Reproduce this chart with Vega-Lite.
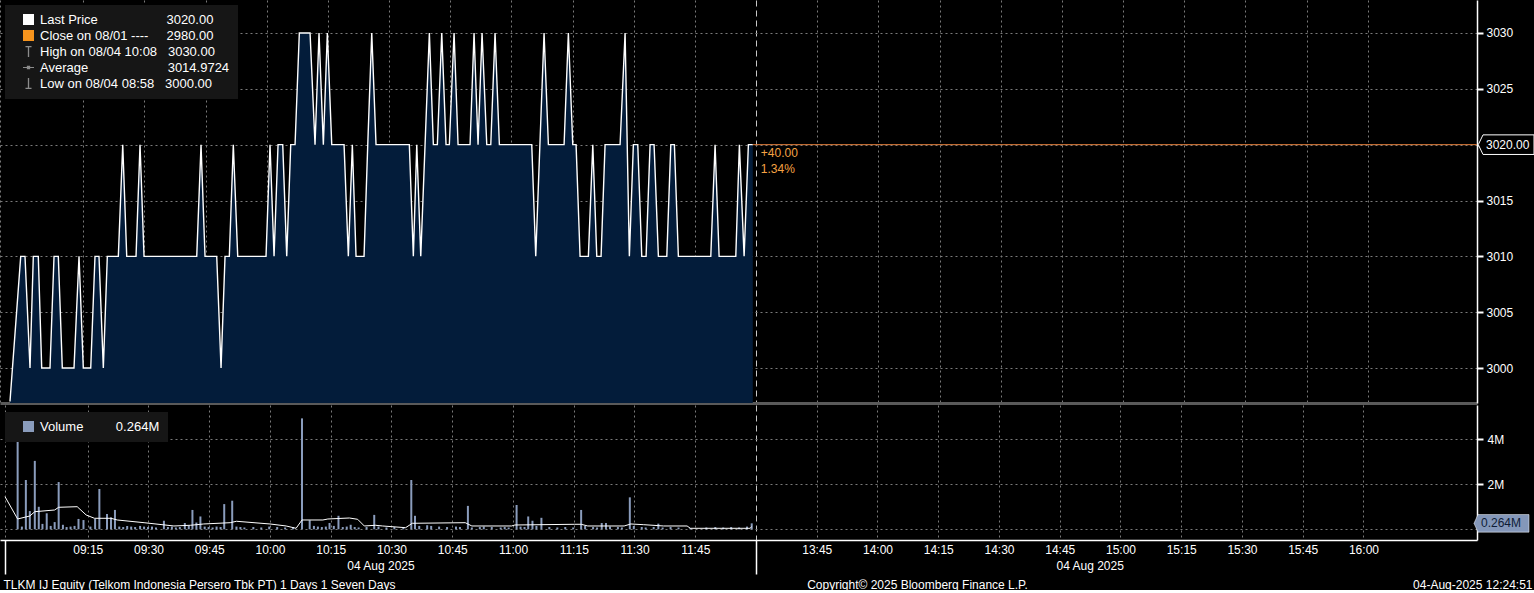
{
"$schema": "https://vega.github.io/schema/vega-lite/v6.json",
"background": "#000000",
"padding": 0,
"autosize": {"type": "pad"},
"bounds": "flush",
"spacing": 2,
"config": {
  "font": "Liberation Sans",
  "view": {"stroke": null},
  "axis": {"labelFont": "Liberation Sans", "titleFont": "Liberation Sans", "labelColor": "#ffffff", "titleColor": "#ffffff", "titleFontWeight": "normal", "labelFontSize": 12, "titleFontSize": 12, "zindex": 1},
  "legend": {"labelFont": "Liberation Sans"}
},
"datasets": {
  "price": [
    {"m":-2.98,"p":2997},{"m":-0.35,"p":3010},{"m":0.70,"p":3010},{"m":1.93,"p":3000},{"m":2.74,"p":3010},{"m":3.96,"p":3010},{"m":4.80,"p":3000},{"m":6.83,"p":3000},{"m":7.82,"p":3010},{"m":8.87,"p":3010},{"m":9.85,"p":3000},{"m":12.72,"p":3000},{"m":13.95,"p":3010},{"m":15.00,"p":3000},{"m":16.82,"p":3000},{"m":17.87,"p":3010},{"m":18.85,"p":3010},{"m":19.91,"p":3000},{"m":20.89,"p":3010},{"m":23.59,"p":3010},{"m":24.67,"p":3020},{"m":25.65,"p":3010},{"m":27.93,"p":3010},{"m":28.91,"p":3020},{"m":29.89,"p":3010},{"m":42.82,"p":3010},{"m":43.87,"p":3020},{"m":44.85,"p":3010},{"m":47.72,"p":3010},{"m":48.78,"p":3000},{"m":49.76,"p":3010},{"m":50.81,"p":3010},{"m":51.79,"p":3020},{"m":52.87,"p":3010},{"m":59.81,"p":3010},{"m":60.79,"p":3020},{"m":61.78,"p":3010},{"m":62.76,"p":3020},{"m":63.91,"p":3020},{"m":64.89,"p":3010},{"m":65.87,"p":3020},{"m":66.93,"p":3020},{"m":67.98,"p":3030},{"m":70.61,"p":3030},{"m":71.83,"p":3020},{"m":72.81,"p":3030},{"m":73.87,"p":3020},{"m":74.85,"p":3030},{"m":75.93,"p":3020},{"m":78.95,"p":3020},{"m":80.00,"p":3010},{"m":80.98,"p":3020},{"m":81.89,"p":3010},{"m":83.85,"p":3010},{"m":84.76,"p":3020},{"m":85.74,"p":3030},{"m":86.79,"p":3020},{"m":94.96,"p":3020},{"m":95.94,"p":3010},{"m":96.78,"p":3020},{"m":97.76,"p":3010},{"m":99.87,"p":3030},{"m":100.85,"p":3020},{"m":101.83,"p":3020},{"m":102.91,"p":3030},{"m":103.96,"p":3020},{"m":104.77,"p":3020},{"m":105.93,"p":3030},{"m":106.91,"p":3020},{"m":109.85,"p":3020},{"m":110.83,"p":3030},{"m":111.81,"p":3020},{"m":112.79,"p":3030},{"m":113.95,"p":3020},{"m":114.93,"p":3020},{"m":115.98,"p":3030},{"m":117.04,"p":3020},{"m":124.98,"p":3020},{"m":125.96,"p":3010},{"m":128.00,"p":3030},{"m":129.06,"p":3020},{"m":132.91,"p":3020},{"m":133.96,"p":3030},{"m":135.04,"p":3020},{"m":135.85,"p":3020},{"m":136.83,"p":3010},{"m":138.87,"p":3010},{"m":139.95,"p":3020},{"m":140.93,"p":3010},{"m":141.98,"p":3010},{"m":142.96,"p":3020},{"m":146.64,"p":3020},{"m":147.87,"p":3030},{"m":148.92,"p":3010},{"m":149.90,"p":3020},{"m":150.98,"p":3020},{"m":151.96,"p":3010},{"m":153.02,"p":3010},{"m":154.00,"p":3020},{"m":154.98,"p":3020},{"m":156.04,"p":3010},{"m":158.10,"p":3010},{"m":159.08,"p":3020},{"m":159.96,"p":3020},{"m":160.94,"p":3010},{"m":168.89,"p":3010},{"m":169.94,"p":3020},{"m":170.93,"p":3010},{"m":175.02,"p":3010},{"m":175.90,"p":3020},{"m":177.06,"p":3010},{"m":178.11,"p":3020},{"m":179.19,"p":3020}
  ],
  "vol": [
    {"m":-2.31,"v":3970000},{"m":-0.28,"v":2190000},{"m":0.70,"v":810000},{"m":1.93,"v":3040000},{"m":2.91,"v":1000000},{"m":3.82,"v":240000},{"m":4.87,"v":710000},{"m":6.83,"v":320000},{"m":7.82,"v":2100000},{"m":8.87,"v":200000},{"m":12.72,"v":460000},{"m":13.95,"v":410000},{"m":16.82,"v":460000},{"m":17.87,"v":1790000},{"m":19.76,"v":680000},{"m":20.74,"v":530000},{"m":21.72,"v":860000},{"m":33.81,"v":380000},{"m":38.97,"v":280000},{"m":40.85,"v":860000},{"m":41.83,"v":300000},{"m":42.82,"v":570000},{"m":48.70,"v":1120000},{"m":50.67,"v":1270000},{"m":67.91,"v":4930000},{"m":69.80,"v":400000},{"m":74.70,"v":280000},{"m":76.91,"v":600000},{"m":79.93,"v":200000},{"m":85.74,"v":640000},{"m":94.89,"v":2190000},{"m":95.80,"v":600000},{"m":108.87,"v":1040000},{"m":120.89,"v":1080000},{"m":123.76,"v":570000},{"m":124.81,"v":380000},{"m":127.02,"v":510000},{"m":136.83,"v":860000},{"m":141.91,"v":280000},{"m":142.96,"v":280000},{"m":148.85,"v":1420000},{"m":155.89,"v":250000},{"m":178.95,"v":264000},
    {"m":-1.26,"v":120000},{"m":5.85,"v":150000},{"m":9.78,"v":100000},{"m":10.76,"v":120000},{"m":11.74,"v":150000},{"m":15.66,"v":120000},{"m":22.78,"v":120000},{"m":23.76,"v":100000},{"m":24.74,"v":150000},{"m":25.72,"v":120000},{"m":26.70,"v":100000},{"m":27.93,"v":150000},{"m":28.91,"v":120000},{"m":29.89,"v":100000},{"m":30.87,"v":120000},{"m":31.85,"v":80000},{"m":34.80,"v":100000},{"m":35.78,"v":120000},{"m":36.76,"v":80000},{"m":37.74,"v":100000},{"m":39.95,"v":150000},{"m":43.87,"v":120000},{"m":44.85,"v":100000},{"m":45.83,"v":80000},{"m":46.81,"v":120000},{"m":47.80,"v":100000},{"m":51.72,"v":120000},{"m":52.70,"v":100000},{"m":53.68,"v":80000},{"m":55.89,"v":100000},{"m":57.85,"v":80000},{"m":59.81,"v":120000},{"m":61.78,"v":100000},{"m":63.74,"v":80000},{"m":65.70,"v":100000},{"m":70.85,"v":150000},{"m":71.83,"v":120000},{"m":72.81,"v":100000},{"m":73.79,"v":120000},{"m":75.76,"v":150000},{"m":77.97,"v":100000},{"m":78.95,"v":120000},{"m":80.91,"v":100000},{"m":81.89,"v":80000},{"m":83.85,"v":100000},{"m":86.79,"v":120000},{"m":88.76,"v":80000},{"m":90.71,"v":100000},{"m":92.93,"v":80000},{"m":96.85,"v":150000},{"m":98.81,"v":180000},{"m":99.80,"v":150000},{"m":101.76,"v":120000},{"m":103.72,"v":100000},{"m":105.93,"v":120000},{"m":106.91,"v":100000},{"m":109.85,"v":80000},{"m":111.81,"v":100000},{"m":112.79,"v":120000},{"m":114.76,"v":100000},{"m":116.96,"v":80000},{"m":117.95,"v":100000},{"m":118.93,"v":80000},{"m":121.87,"v":120000},{"m":122.85,"v":100000},{"m":125.79,"v":150000},{"m":128.98,"v":100000},{"m":130.95,"v":80000},{"m":132.91,"v":100000},{"m":134.87,"v":80000},{"m":137.81,"v":150000},{"m":139.78,"v":100000},{"m":140.76,"v":80000},{"m":143.95,"v":120000},{"m":145.91,"v":100000},{"m":146.89,"v":80000},{"m":149.83,"v":150000},{"m":151.79,"v":100000},{"m":152.77,"v":80000},{"m":154.74,"v":100000},{"m":156.95,"v":80000},{"m":158.91,"v":100000},{"m":160.87,"v":80000},{"m":163.81,"v":60000},{"m":167.74,"v":80000},{"m":169.95,"v":100000},{"m":171.91,"v":80000},{"m":173.87,"v":100000},{"m":175.83,"v":80000},{"m":177.79,"v":120000}
  ],
  "avg": [
    {"m":-5.43,"v":1449000},{"m":-2.31,"v":458000},{"m":0.70,"v":591000},{"m":1.93,"v":782000},{"m":6.83,"v":858000},{"m":7.82,"v":978000},{"m":12.40,"v":1004000},{"m":14.61,"v":636000},{"m":16.65,"v":489000},{"m":20.74,"v":489000},{"m":22.29,"v":413000},{"m":28.91,"v":293000},{"m":36.27,"v":147000},{"m":40.36,"v":178000},{"m":43.63,"v":236000},{"m":50.18,"v":293000},{"m":51.72,"v":356000},{"m":59.99,"v":236000},{"m":63.98,"v":147000},{"m":66.44,"v":44000},{"m":67.91,"v":413000},{"m":73.06,"v":413000},{"m":74.29,"v":458000},{"m":79.61,"v":502000},{"m":81.65,"v":444000},{"m":83.29,"v":147000},{"m":86.06,"v":178000},{"m":87.78,"v":147000},{"m":93.49,"v":71000},{"m":95.13,"v":267000},{"m":108.21,"v":293000},{"m":109.85,"v":147000},{"m":119.66,"v":147000},{"m":120.47,"v":191000},{"m":135.19,"v":222000},{"m":136.83,"v":222000},{"m":138.47,"v":147000},{"m":147.45,"v":147000},{"m":149.10,"v":236000},{"m":152.28,"v":204000},{"m":157.19,"v":147000},{"m":162.99,"v":147000},{"m":163.81,"v":44000},{"m":178.53,"v":44000},{"m":178.95,"v":116000}
  ]
},
"resolve": {"scale": {"color": "independent", "shape": "independent"}, "legend": {"color": "independent", "shape": "independent"}},
"vconcat": [
  {
    "width": 1477,
    "height": 403,
    "layer": [
      {
        "data": {"name": "price"},
        "mark": {"type": "area", "color": "#031c3a", "clip": true},
        "encoding": {
          "x": {"field": "m", "type": "quantitative", "scale": {"domain": [-5.43, 356.8], "nice": false, "zero": false},
            "axis": {"orient": "bottom", "values": [-5.43,15,30,45,60,75,90,105,120,135,150,165,180,195,210,225,240,255,270,285,300,315,330],
              "labels": false, "ticks": false, "domain": true, "domainColor": "#5a5a5a", "domainWidth": 3,
              "grid": true, "gridWidth": 1,
              "gridColor": {"condition": {"test": "datum.value == 180", "value": "#c8c8c8"}, "value": "#7a7a7a"},
              "gridDash": {"condition": {"test": "datum.value == 180", "value": [6,4]}, "value": [2,3]},
              "title": "Copyright\u00a9 2025 Bloomberg Finance L.P.", "titleX": 917, "titleY": 181, "titleAlign": "center", "titleBaseline": "middle", "titleFontSize": 12, "titleFontWeight": "normal", "titleColor": "#ffffff"}},
          "y": {"field": "p", "type": "quantitative", "scale": {"domain": [2996.866, 3032.955], "nice": false, "zero": false},
            "axis": {"orient": "right", "values": [3000,3005,3010,3015,3020,3025,3030],
              "format": "d", "labelExpr": "datum.value == 3020 ? '' : datum.label", "title": null,
              "grid": true, "gridColor": "#7a7a7a", "gridDash": [2,3], "gridWidth": 1,
              "domainColor": "#ffffff", "domainWidth": 1.5, "tickColor": "#ffffff",
              "tickSize": 6, "tickWidth": 2,
              "labelPadding": 3, "labelFontSize": 12, "labelOverlap": false}}
        }
      },
      {
        "data": {"name": "price"},
        "mark": {"type": "line", "color": "#ffffff", "strokeWidth": 1.4, "clip": true},
        "encoding": {
          "x": {"field": "m", "type": "quantitative"},
          "y": {"field": "p", "type": "quantitative"}
        }
      },
      {
        "data": {"values": [{"from": 179.19, "to": 356.8, "p": 3020}]},
        "mark": {"type": "rule", "color": "#e5803d", "strokeWidth": 1},
        "encoding": {
          "x": {"field": "from", "type": "quantitative"},
          "x2": {"field": "to"},
          "y": {"field": "p", "type": "quantitative"}
        }
      },
      {
        "data": {"values": [{"m": 179.19, "p": 3020, "t": "+40.00\n1.34%"}]},
        "mark": {"type": "text", "align": "left", "baseline": "top", "dx": 8, "dy": 3, "fontSize": 12, "color": "#f5a344", "lineBreak": "\n", "lineHeight": 16},
        "encoding": {
          "x": {"field": "m", "type": "quantitative"},
          "y": {"field": "p", "type": "quantitative"},
          "text": {"field": "t"}
        }
      },
      {
        "data": {"values": [{"m": 356.8, "p": 3020, "t": "3020.00"}]},
        "mark": {"type": "point", "shape": "M0.13,0 L0.6,-0.98 L5.7,-0.98 L5.7,0.98 L0.6,0.98 Z", "size": 400, "filled": true, "fill": "#000000", "stroke": "#ffffff", "strokeWidth": 1, "opacity": 1},
        "encoding": {
          "x": {"field": "m", "type": "quantitative"},
          "y": {"field": "p", "type": "quantitative"}
        }
      },
      {
        "data": {"values": [{"m": 356.8, "p": 3020, "t": "3020.00"}]},
        "mark": {"type": "text", "align": "left", "baseline": "middle", "dx": 9, "fontSize": 12, "color": "#ffffff"},
        "encoding": {
          "x": {"field": "m", "type": "quantitative"},
          "y": {"field": "p", "type": "quantitative"},
          "text": {"field": "t"}
        }
      },
      {
        "data": {"name": "price"},
        "transform": [{"filter": "false"}],
        "mark": {"type": "point", "filled": true, "opacity": 1},
        "encoding": {
          "color": {"datum": "Last Price\u00a0\u00a0\u00a0\u00a0\u00a0\u00a0\u00a0\u00a0\u00a0\u00a0\u00a0\u00a0\u00a0\u00a0\u00a0\u00a0\u00a0\u00a0\u00a03020.00", "type": "nominal",
            "scale": {"domain": ["Last Price\u00a0\u00a0\u00a0\u00a0\u00a0\u00a0\u00a0\u00a0\u00a0\u00a0\u00a0\u00a0\u00a0\u00a0\u00a0\u00a0\u00a0\u00a0\u00a03020.00",
                                 "Close on 08/01 ----\u00a0\u00a0\u00a0\u00a0\u00a02980.00",
                                 "High on 08/04 10:08\u00a0\u00a0\u00a03030.00",
                                 "Average\u00a0\u00a0\u00a0\u00a0\u00a0\u00a0\u00a0\u00a0\u00a0\u00a0\u00a0\u00a0\u00a0\u00a0\u00a0\u00a0\u00a0\u00a0\u00a0\u00a0\u00a0\u00a03014.9724",
                                 "Low on 08/04 08:58\u00a0\u00a0\u00a03000.00"],
                      "range": ["#ffffff","#f7941d","#8c8c8c","#8c8c8c","#8c8c8c"]},
            "legend": {"orient": "none", "legendX": 5, "legendY": 5, "title": null, "rowPadding": 2, "padding": 8,
                       "fillColor": "#161616", "labelColor": "#ffffff", "labelFontSize": 13, "labelLimit": 400, "symbolSize": 121, "symbolOffset": 9, "labelOffset": 5, "symbolStrokeWidth": 0, "symbolOpacity": 1}},
          "shape": {"datum": "Last Price\u00a0\u00a0\u00a0\u00a0\u00a0\u00a0\u00a0\u00a0\u00a0\u00a0\u00a0\u00a0\u00a0\u00a0\u00a0\u00a0\u00a0\u00a0\u00a03020.00", "type": "nominal",
            "scale": {"domain": ["Last Price\u00a0\u00a0\u00a0\u00a0\u00a0\u00a0\u00a0\u00a0\u00a0\u00a0\u00a0\u00a0\u00a0\u00a0\u00a0\u00a0\u00a0\u00a0\u00a03020.00",
                                 "Close on 08/01 ----\u00a0\u00a0\u00a0\u00a0\u00a02980.00",
                                 "High on 08/04 10:08\u00a0\u00a0\u00a03030.00",
                                 "Average\u00a0\u00a0\u00a0\u00a0\u00a0\u00a0\u00a0\u00a0\u00a0\u00a0\u00a0\u00a0\u00a0\u00a0\u00a0\u00a0\u00a0\u00a0\u00a0\u00a0\u00a0\u00a03014.9724",
                                 "Low on 08/04 08:58\u00a0\u00a0\u00a03000.00"],
                      "range": ["square","square",
                                "M-0.55,-1 L0.55,-1 L0.55,-0.78 L0.12,-0.78 L0.12,1 L-0.12,1 L-0.12,-0.78 L-0.55,-0.78 Z",
                                "M-1,-0.08 L-0.3,-0.08 L-0.3,-0.3 L0.3,-0.3 L0.3,-0.08 L1,-0.08 L1,0.08 L0.3,0.08 L0.3,0.3 L-0.3,0.3 L-0.3,0.08 L-1,0.08 Z",
                                "M-0.12,-1 L0.12,-1 L0.12,0.78 L0.55,0.78 L0.55,1 L-0.55,1 L-0.55,0.78 L-0.12,0.78 Z"]}}
        }
      }
    ]
  },
  {
    "width": 1477,
    "height": 135,
    "layer": [
      {
        "data": {"name": "vol"},
        "mark": {"type": "bar", "width": 2, "clip": true},
        "encoding": {
          "x": {"field": "m", "type": "quantitative", "scale": {"domain": [-5.43, 356.8], "nice": false, "zero": false},
            "axis": {"orient": "bottom", "values": [-5.43,15,30,45,60,75,90,105,120,135,150,165,180,195,210,225,240,255,270,285,300,315,330,87.29,262.4],
              "labelExpr": "datum.value < 0 || datum.value == 180 ? '' : (datum.value == 87.29 || datum.value == 262.4) ? ['', '04 Aug 2025'] : format(floor((datum.value < 180 ? datum.value + 540 : datum.value + 630) / 60), '02d') + ':' + format((datum.value < 180 ? datum.value + 540 : datum.value + 630) % 60, '02d')",
              "labelOverlap": false, "labelFlush": false, "labelBound": false, "labelFontSize": 12, "labelPadding": -30, "labelLineHeight": 16, "labelColor": "#ffffff",
              "domainColor": "#ffffff", "domainWidth": 1.5,
              "ticks": true, "tickSize": 34, "tickWidth": 1.5,
              "tickColor": {"condition": {"test": "datum.value < 0 || datum.value == 180", "value": "#ffffff"}, "value": "transparent"},
              "grid": true, "gridWidth": 1,
              "gridColor": {"condition": {"test": "datum.value == 180", "value": "#c8c8c8"}, "value": "#7a7a7a"},
              "gridDash": {"condition": {"test": "datum.value == 180", "value": [6,4]}, "value": [2,3]},
              "gridOpacity": {"condition": {"test": "datum.value == 87.29 || datum.value == 262.4", "value": 0}, "value": 1},
              "title": "TLKM IJ Equity (Telkom Indonesia Persero Tbk PT) 1 Days 1 Seven Days", "titleX": 3, "titleY": 44, "titleAlign": "left", "titleBaseline": "middle", "titleFontSize": 12, "titleFontWeight": "normal", "titleColor": "#ffffff"}},
          "y": {"field": "v", "type": "quantitative", "scale": {"domain": [-476000, 5524000], "nice": false, "zero": false},
            "axis": {"orient": "right", "values": [0,1000000,2000000,3000000,4000000,5000000],
              "labelExpr": "datum.value == 2000000 ? '2M' : datum.value == 4000000 ? '4M' : ''",
              "grid": true, "gridColor": "#7a7a7a", "gridDash": [2,3], "gridWidth": 1,
              "gridOpacity": {"condition": {"test": "datum.value % 2000000 == 0", "value": 1}, "value": 0},
              "domainColor": "#ffffff", "domainWidth": 1.5, "tickColor": "#ffffff",
              "tickSize": {"condition": {"test": "datum.value % 2000000 == 0", "value": 6}, "value": 3},
              "tickWidth": {"condition": {"test": "datum.value % 2000000 == 0", "value": 2}, "value": 1},
              "labelPadding": 4, "labelFontSize": 12, "labelOverlap": false,
              "title": "04-Aug-2025 12:24:51", "titleAngle": 0, "titleX": 55, "titleY": 179, "titleAlign": "right", "titleBaseline": "middle", "titleFontSize": 12, "titleFontWeight": "normal", "titleColor": "#ffffff"}},
          "y2": {"datum": 0},
          "color": {"datum": "Volume\u00a0\u00a0\u00a0\u00a0\u00a0\u00a0\u00a0\u00a0\u00a00.264M", "type": "nominal",
            "scale": {"domain": ["Volume\u00a0\u00a0\u00a0\u00a0\u00a0\u00a0\u00a0\u00a0\u00a00.264M"], "range": ["#8a9cbc"]},
            "legend": {"orient": "none", "legendX": 5, "legendY": 7, "title": null, "padding": 8,
                       "fillColor": "#161616", "labelColor": "#ffffff", "labelFontSize": 13, "labelLimit": 300, "symbolType": "square", "symbolSize": 121, "symbolOffset": 9, "labelOffset": 5, "symbolStrokeWidth": 0, "symbolOpacity": 1}}
        }
      },
      {
        "data": {"name": "avg"},
        "mark": {"type": "line", "color": "#ffffff", "strokeWidth": 1, "clip": true},
        "encoding": {
          "x": {"field": "m", "type": "quantitative"},
          "y": {"field": "v", "type": "quantitative"}
        }
      },
      {
        "data": {"values": [{"m": 356.8, "v": 264000, "t": "0.264M"}]},
        "mark": {"type": "point", "shape": "M0.2,0 L0.6,-0.88 L5.7,-0.88 L5.7,0.88 L0.6,0.88 Z", "size": 400, "filled": true, "fill": "#8497b9", "stroke": "#ffffff", "strokeWidth": 0.5, "opacity": 1},
        "encoding": {
          "x": {"field": "m", "type": "quantitative"},
          "y": {"field": "v", "type": "quantitative"}
        }
      },
      {
        "data": {"values": [{"m": 356.8, "v": 264000, "t": "0.264M"}]},
        "mark": {"type": "text", "align": "left", "baseline": "middle", "dx": 9, "fontSize": 12, "color": "#0e1c36"},
        "encoding": {
          "x": {"field": "m", "type": "quantitative"},
          "y": {"field": "v", "type": "quantitative"},
          "text": {"field": "t"}
        }
      }
    ]
  }
]
}
